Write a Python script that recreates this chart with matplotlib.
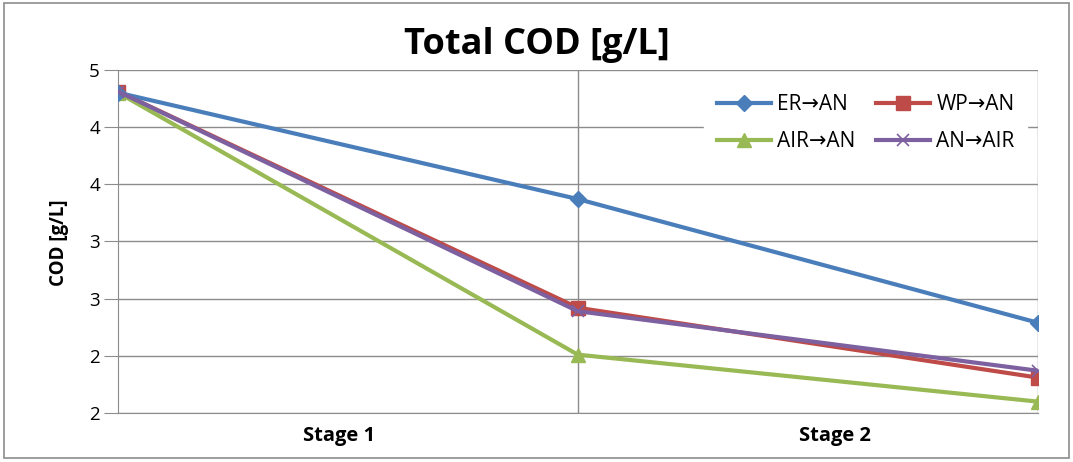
import matplotlib
matplotlib.use("Agg")
import matplotlib.pyplot as plt
from matplotlib.patches import Rectangle

plt.rcParams['font.family'] = ['Open Sans', 'DejaVu Sans']

# data
stages = [0, 1, 2]
stage_labels = ["Stage 1", "Stage 2"]
er_an = [4.30, 3.37, 2.29]
wp_an = [4.31, 2.42, 1.81]
air_an = [4.30, 2.01, 1.60]
an_air = [4.31, 2.39, 1.87]
y_ticks = [1.5, 2.0, 2.5, 3.0, 3.5, 4.0, 4.5]
y_tick_labels = ["2", "2", "3", "3", "4", "4", "5"]

grid_col = "#8c8c8c"

fig = plt.figure(figsize=(10.73, 4.62), dpi=100)
ax = fig.add_axes([0.110, 0.106, 0.857, 0.743])

l1, = ax.plot(stages, er_an, color="#4a7ebb", lw=3, marker="D", ms=8, label="ER\u2192AN", zorder=4)
l2, = ax.plot(stages, wp_an, color="#be4b48", lw=3, marker="s", ms=10, label="WP\u2192AN", zorder=3)
l3, = ax.plot(stages, air_an, color="#98b954", lw=3, marker="^", ms=10, label="AIR\u2192AN", zorder=3)
l4, = ax.plot(stages, an_air, color="#7d60a0", lw=3, marker="x", ms=9, mew=1.2, label="AN\u2192AIR", zorder=4)

ax.set_xlim(0, 2)
ax.set_ylim(1.5, 4.5)
ax.set_yticks(y_ticks)
ax.set_yticklabels(y_tick_labels, fontsize=13.5)
# stage labels sit a little off the gridline midpoints in the reference
ax.set_xticks([0.48, 1.56])
ax.set_xticklabels(stage_labels, fontsize=14.5, fontweight="bold")
ax.tick_params(axis="x", length=0, pad=9)
ax.tick_params(axis="y", length=10, color=grid_col, pad=3)

for y in y_ticks:
    ax.axhline(y, color=grid_col, lw=1, zorder=1)
ax.axvline(1, color=grid_col, lw=1, zorder=1)
ax.axvline(2, color=grid_col, lw=1, zorder=1)
for s in ["top", "right"]:
    ax.spines[s].set_visible(False)
for s in ["left", "bottom"]:
    ax.spines[s].set_color(grid_col)

fig.text(59 / 1073, 1 - 243 / 462, "COD [g/L]", rotation=90, ha="center", va="center",
         fontsize=13.5, fontweight="bold")
fig.text(0.5, 1 - 45 / 462, "Total COD [g/L]", ha="center", va="center", fontsize=26, fontweight="bold")

leg = ax.legend(handles=[l1, l3, l2, l4], ncol=2, loc="upper right",
                bbox_to_anchor=(1.0, 0.995), fontsize=15, frameon=True,
                fancybox=False, edgecolor="white", framealpha=1,
                handlelength=2.6, handletextpad=0.3, columnspacing=1.0,
                borderpad=0.6, labelspacing=0.75)
leg.set_zorder(5)

fig.patches.append(Rectangle((0.004, 0.008), 0.992, 0.985, transform=fig.transFigure,
                             fill=False, edgecolor="#8c8c8c", lw=1.2))

fig.savefig("out.png", dpi=100)
